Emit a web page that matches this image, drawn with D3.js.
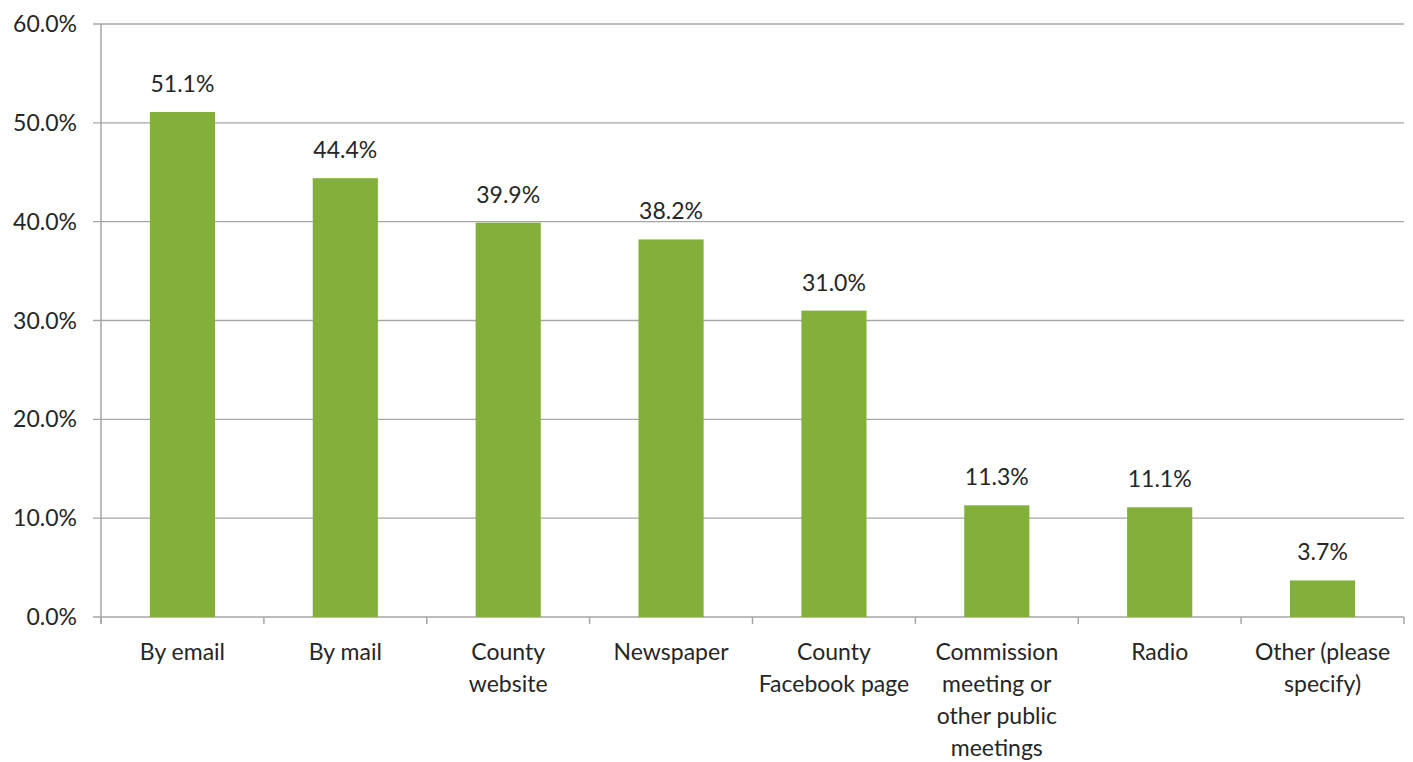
<!DOCTYPE html>
<html><head><meta charset="utf-8">
<script src="https://cdn.jsdelivr.net/npm/d3@7"></script>
<style>body{margin:0;background:#fff}svg{display:block}text{font-family:Lato,"Open Sans",sans-serif;fill:#262626}</style>
</head><body>
<script>
const categories = [["By email"],["By mail"],["County","website"],["Newspaper"],["County","Facebook page"],["Commission","meeting or","other public","meetings"],["Radio"],["Other (please","specify)"]];
const values = [51.1,44.4,39.9,38.2,31.0,11.3,11.1,3.7];
const yTicks = [0,10,20,30,40,50,60];

const W=1413,H=762,FS=23;
const m={left:101,right:1404,top:24,bottom:617};
const svg=d3.select("body").append("svg").attr("width",W).attr("height",H);
const x=d3.scaleBand().domain(d3.range(categories.length)).range([m.left,m.right]).paddingInner(0.6).paddingOuter(0.3);
const xb=d3.scaleBand().domain(d3.range(categories.length)).range([m.left,m.right]);
const y=d3.scaleLinear().domain([0,60]).range([m.bottom,m.top]);

// gridlines
svg.append("g").selectAll("line").data(yTicks).join("line")
 .attr("x1",93).attr("x2",m.right).attr("y1",d=>y(d)).attr("y2",d=>y(d))
 .attr("stroke","#a6a6a6").attr("stroke-width",1.3);
svg.append("g").selectAll("text").data(yTicks).join("text")
 .attr("x",77).attr("y",d=>y(d)).attr("dy","0.35em").attr("text-anchor","end")
 .attr("font-size",FS).text(d=>d.toFixed(1)+"%");
// axis lines
svg.append("line").attr("x1",m.left).attr("x2",m.left).attr("y1",m.top).attr("y2",m.bottom+7).attr("stroke","#a6a6a6").attr("stroke-width",1.5);
svg.append("g").selectAll("line").data(d3.range(categories.length+1)).join("line")
 .attr("x1",i=>i<categories.length?xb(i):m.right).attr("x2",i=>i<categories.length?xb(i):m.right)
 .attr("y1",m.bottom).attr("y2",m.bottom+7).attr("stroke","#a6a6a6").attr("stroke-width",1.5);
// bars
svg.append("g").selectAll("rect").data(values).join("rect")
 .attr("x",(d,i)=>x(i)).attr("width",x.bandwidth()).attr("y",d=>y(d)).attr("height",d=>y(0)-y(d))
 .attr("fill","#82b03a");
svg.append("g").selectAll("text").data(values).join("text")
 .attr("x",(d,i)=>x(i)+x.bandwidth()/2).attr("y",d=>y(d)-20).attr("text-anchor","middle")
 .attr("font-size",FS).text(d=>d.toFixed(1)+"%");
// category labels
const cl=svg.append("g").selectAll("text").data(categories).join("text")
 .attr("x",(d,i)=>xb(i)+xb.bandwidth()/2).attr("y",660).attr("text-anchor","middle").attr("font-size",FS);
cl.selectAll("tspan").data(d=>d).join("tspan")
 .attr("x",function(){return d3.select(this.parentNode).attr("x");})
 .attr("dy",(d,i)=>i?32:0).text(d=>d);
</script>
</body></html>
